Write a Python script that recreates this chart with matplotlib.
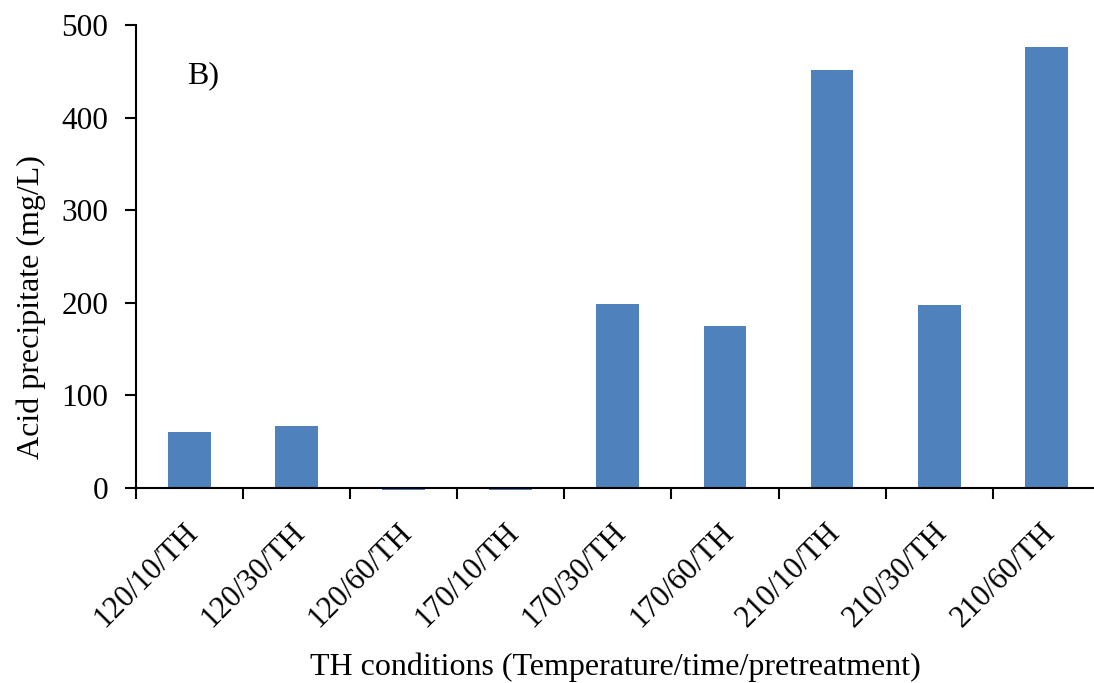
import matplotlib
matplotlib.use("Agg")
import matplotlib.pyplot as plt
from matplotlib.transforms import ScaledTranslation
import numpy as np

conditions = ["120/10/TH", "120/30/TH", "120/60/TH", "170/10/TH", "170/30/TH",
              "170/60/TH", "210/10/TH", "210/30/TH", "210/60/TH"]
acid_precipitate = [60.5, 67, -2.5, -2.5, 198.5, 175, 451, 197.5, 476]

plt.rcParams["font.family"] = ["Liberation Serif", "DejaVu Serif"]

fig = plt.figure(figsize=(10.94, 6.83), dpi=100)
ax = fig.add_axes([0.1243, 0.2855, 0.881, 0.678])

x = np.arange(len(conditions))
ax.bar(x, acid_precipitate, width=0.4, color="#4f81bd", zorder=2, clip_on=False)

ax.set_xlim(-0.5, len(conditions) - 0.5)
ax.set_ylim(0, 500)
ax.set_yticks(range(0, 501, 100))
ax.tick_params(axis="y", direction="out", length=8, width=1.5, labelsize=22.5, pad=12)

# category labels at the centres, tick marks on the boundaries
ax.set_xticks(x)
ax.set_xticklabels(conditions, rotation=45, ha="right", va="center",
                   rotation_mode="anchor", fontsize=22)
ax.tick_params(axis="x", which="major", length=0, pad=29)
shift = ScaledTranslation(4 / 100, 0, fig.dpi_scale_trans)
for lbl in ax.get_xticklabels():
    lbl.set_transform(lbl.get_transform() + shift)
ax.set_xticks(np.arange(-0.5, len(conditions)), minor=True)
ax.tick_params(axis="x", which="minor", direction="out", length=8, width=1.5)

for side in ["top", "right"]:
    ax.spines[side].set_visible(False)
ax.spines["left"].set_linewidth(1.5)
ax.spines["bottom"].set_linewidth(1.5)
ax.spines["bottom"].set_zorder(3)

ax.set_ylabel("Acid precipitate (mg/L)", fontsize=23)
ax.yaxis.set_label_coords(-0.093, 0.39)
ax.set_xlabel("TH conditions (Temperature/time/pretreatment)", fontsize=23)
ax.xaxis.set_label_coords(0.497, -0.356)
ax.text(0.053, 0.89, "B)", transform=ax.transAxes, fontsize=23, va="center")

fig.savefig("out.png", dpi=100)
